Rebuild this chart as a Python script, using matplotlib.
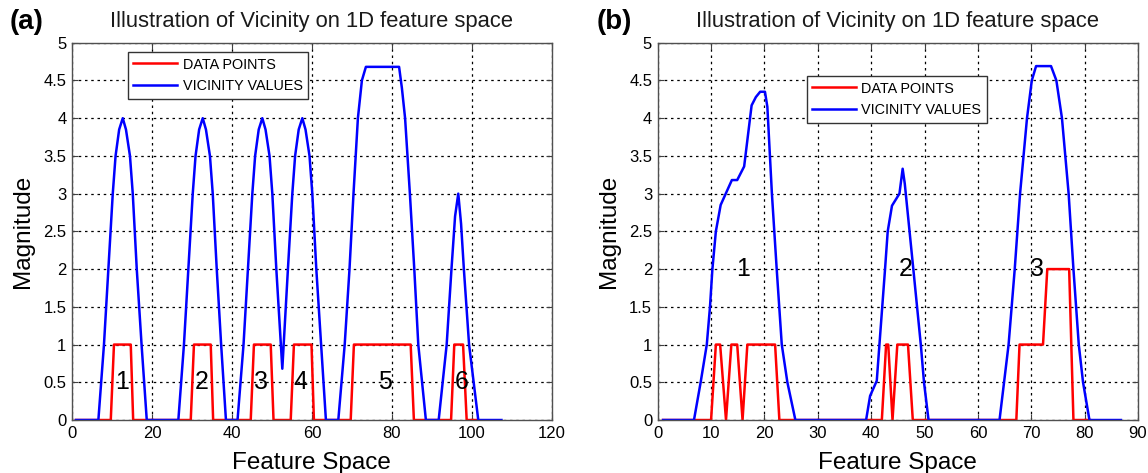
import matplotlib
matplotlib.use("Agg")
import matplotlib.pyplot as plt
from matplotlib.ticker import FuncFormatter

plt.rcParams['font.family'] = ['Liberation Sans', 'DejaVu Sans']

# ---- panel (a) ----
red_a_x = [1, 9.7, 10.5, 14.7, 15.3, 29.7, 30.5, 34.7, 35.3, 44.7, 45.5, 49.7, 50.4,
           54.7, 55.5, 59.9, 60.5, 69.7, 70.5, 84.7, 85.5, 94.8, 95.6, 97.8, 98.7, 101.2]
red_a_y = [0, 0, 1, 1, 0, 0, 1, 1, 0, 0, 1, 1, 0,
           0, 1, 1, 0, 0, 1, 1, 0, 0, 1, 1, 0, 0]

blue_a_x = [1, 6.6, 8.0, 9.1, 10.2, 10.9, 11.8, 12.7, 13.5, 14.5, 15.2, 16.2, 17.4, 18.7,
            26.6, 28.0, 29.1, 30.2, 30.9, 31.8, 32.7, 33.5, 34.5, 35.2, 36.2, 37.3, 38.5,
            41.4, 42.9, 44.0, 45.1, 45.8, 46.7, 47.6, 48.4, 49.4, 50.1, 51.1, 52.6,
            54.0, 55.1, 55.8, 56.7, 57.6, 58.4, 59.4, 60.1, 61.1, 62.3, 63.5,
            66.6, 68.2, 69.4, 70.4, 71.5, 72.5, 73.5, 81.8, 82.5, 83.3, 84.5, 85.6, 86.6, 88.5,
            91.7, 93.7, 94.9, 95.8, 96.6, 97.3, 98.0, 99.3, 101.6, 107.4]
blue_a_y = [0, 0, 1, 2, 3, 3.5, 3.85, 4.0, 3.85, 3.5, 3, 2, 1, 0,
            0, 1, 2, 3, 3.5, 3.85, 4.0, 3.85, 3.5, 3, 2, 1, 0,
            0, 1, 2, 3, 3.5, 3.85, 4.0, 3.85, 3.5, 3, 2, 0.68,
            2, 3, 3.5, 3.85, 4.0, 3.85, 3.5, 3, 2, 1, 0,
            0, 1, 2, 3, 4, 4.5, 4.68, 4.68, 4.4, 4, 3, 2, 1, 0,
            0, 1, 2, 2.7, 3.0, 2.6, 2, 1, 0, 0]

labels_a = ['1', '2', '3', '4', '5', '6']
labels_a_x = [12.4, 32.4, 47.3, 57.2, 78.3, 97.4]
labels_a_y = [0.5, 0.5, 0.5, 0.5, 0.5, 0.5]

# ---- panel (b) ----
red_b_x = [1, 10.0, 10.9, 11.7, 12.8, 13.8, 14.9, 15.9, 16.8, 22.0, 22.8,
           42.0, 42.8, 43.2, 44.0, 44.9, 46.9, 47.8,
           67.2, 67.8, 72.2, 73.0, 77.1, 77.9, 81.0]
red_b_y = [0, 0, 1, 1, 0, 1, 1, 0, 1, 1, 0,
           0, 1, 1, 0, 1, 1, 0,
           0, 1, 1, 2, 2, 0, 0]

blue_b_x = [1, 6.8, 8.05, 9.2, 9.8, 10.25, 10.9, 11.8, 13.9, 14.9, 16.2, 17.6, 18.4, 19.2,
            20.1, 20.55, 21.4, 22.3, 23.25, 24.3, 25.8,
            39.05, 39.8, 41.05, 41.55, 42.6, 43.1, 43.9, 45.3, 45.9, 46.3, 47.9, 49.3, 49.9, 50.75,
            64.05, 64.9, 65.75, 66.9, 67.9, 69.2, 70.1, 70.9, 73.7, 74.7, 75.75, 77.0, 77.9,
            78.9, 79.7, 80.9, 86.8]
blue_b_y = [0, 0, 0.5, 1, 1.5, 2, 2.5, 2.85, 3.18, 3.18, 3.36, 4.17, 4.28, 4.35,
            4.35, 4.15, 3, 2, 1, 0.5, 0,
            0, 0.32, 0.52, 1, 2, 2.5, 2.84, 3.0, 3.33, 3.13, 2, 1, 0.5, 0,
            0, 0.5, 1, 2, 3, 4, 4.5, 4.69, 4.69, 4.5, 4, 3, 2,
            1, 0.5, 0, 0]

labels_b = ['1', '2', '3']
labels_b_x = [16.0, 46.4, 71.1]
labels_b_y = [2.0, 2.0, 2.0]

yticks = [0, 0.5, 1, 1.5, 2, 2.5, 3, 3.5, 4, 4.5, 5]
xticks_a = [0, 20, 40, 60, 80, 100, 120]
xticks_b = [0, 10, 20, 30, 40, 50, 60, 70, 80, 90]

title = 'Illustration of Vicinity on 1D feature space'

fig = plt.figure(figsize=(11.48, 4.73), dpi=100)
ax1 = fig.add_axes([0.0627, 0.112, 0.418, 0.7977])
ax2 = fig.add_axes([0.5729, 0.112, 0.4184, 0.7977])


def style(ax, xticks, xmax, ylab_x):
    ax.set_xlim(0, xmax)
    ax.set_ylim(0, 5)
    ax.set_xticks(xticks)
    ax.set_yticks(yticks)
    ax.yaxis.set_major_formatter(FuncFormatter(lambda v, p: '%g' % v))
    ax.set_axisbelow(True)
    ax.grid(True, linestyle=(0, (2, 3)), color='k', linewidth=0.9)
    ax.tick_params(direction='in', length=4, top=True, right=True,
                   labelsize=12, pad=4, color='#404040')
    for s in ax.spines.values():
        s.set_color('#505050')
        s.set_linewidth(1.0)
    ax.set_title(title, fontsize=15.8, pad=11, color='#1a1a1a')
    ax.set_xlabel('Feature Space', fontsize=17.5)
    ax.set_ylabel('Magnitude', fontsize=17.5)
    ax.xaxis.set_label_coords(0.5, -0.085)
    ax.yaxis.set_label_coords(ylab_x, 0.5)


style(ax1, xticks_a, 120, -0.08)
style(ax2, xticks_b, 90, -0.078)

ax1.plot(red_a_x, red_a_y, color='red', lw=1.8, label='DATA POINTS')
ax1.plot(blue_a_x, blue_a_y, color='blue', lw=1.8, label='VICINITY VALUES')
for t, x, y in zip(labels_a, labels_a_x, labels_a_y):
    ax1.text(x, y, t, fontsize=18, ha='center', va='center')

ax2.plot(red_b_x, red_b_y, color='red', lw=1.8, label='DATA POINTS')
ax2.plot(blue_b_x, blue_b_y, color='blue', lw=1.8, label='VICINITY VALUES')
for t, x, y in zip(labels_b, labels_b_x, labels_b_y):
    ax2.text(x, y, t, fontsize=18, ha='center', va='center')

for ax, anchor in ((ax1, (0.116, 0.976)), (ax2, (0.310, 0.9125))):
    leg = ax.legend(loc='upper left', bbox_to_anchor=anchor, borderaxespad=0,
                    fontsize=10.4, handlelength=3.0, handletextpad=0.4,
                    fancybox=False, framealpha=1, edgecolor='#333333')
    leg.get_frame().set_linewidth(1.0)

fig.text(0.008, 0.953, '(a)', fontsize=20, fontweight='bold', va='center')
fig.text(0.520, 0.953, '(b)', fontsize=20, fontweight='bold', va='center')

fig.savefig('out.png', dpi=100)
